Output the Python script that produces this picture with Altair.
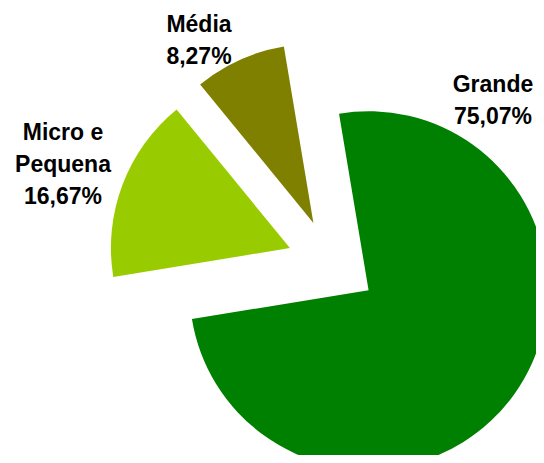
import math
import altair as alt
import pandas as pd

# ---- data ----
categories = ["Grande", "Micro e Pequena", "Média"]
shares = [75.07, 16.67, 8.27]
label_lines = ["Grande", "Micro e\nPequena", "Média"]
colors = ["#008000", "#99CC00", "#808000"]

# ---- layout / style ----
W, H = 528, 447
CX, CY = 324, 256          # pie centre (plot coords)
R = 179                    # pie radius
EXPLODE = 45               # radial explosion of each slice
START = math.radians(-9.5) # angle at which the first slice begins
FONT = "Liberation Sans"
FS = 23
LABEL_POS = {              # anchor of first text line (plot coords)
    "Grande": (485, 84),
    "Micro e Pequena": (55, 132),
    "Média": (191, 24),
}

df = pd.DataFrame({"cat": categories, "value": shares,
                   "order": list(range(len(categories)))})

color_scale = alt.Scale(domain=categories, range=colors)

slices = (
    alt.Chart(df)
    .transform_joinaggregate(total="sum(value)")
    .transform_window(cum="sum(value)", sort=[alt.SortField("order")],
                      frame=[None, 0])
    .transform_calculate(
        t1=f"{START} + 2*PI*datum.cum/datum.total",
        t0=f"{START} + 2*PI*(datum.cum - datum.value)/datum.total",
    )
    .transform_calculate(mid="(datum.t0 + datum.t1)/2")
    .transform_calculate(
        px=f"{CX} + {EXPLODE}*sin(datum.mid)",
        py=f"{CY} - {EXPLODE}*cos(datum.mid)",
    )
    .mark_arc(outerRadius=R, stroke=None)
    .encode(
        theta=alt.Theta("t0:Q", scale=None, stack=None),
        theta2="t1:Q",
        x=alt.X("px:Q", scale=None, axis=None),
        y=alt.Y("py:Q", scale=None, axis=None),
        color=alt.Color("cat:N", scale=color_scale, legend=None),
    )
)

lab = pd.DataFrame({
    "cat": categories,
    "text": [f"{l}\n{v:.2f}%".replace(".", ",") for l, v in zip(label_lines, shares)],
    "lx": [LABEL_POS[c][0] for c in categories],
    "ly": [LABEL_POS[c][1] for c in categories],
})

labels = (
    alt.Chart(lab)
    .mark_text(font=FONT, fontSize=FS, fontWeight="bold", color="#000000",
               align="center", baseline="alphabetic", lineBreak="\n",
               lineHeight=32)
    .encode(
        x=alt.X("lx:Q", scale=None, axis=None),
        y=alt.Y("ly:Q", scale=None, axis=None),
        text="text:N",
    )
)

chart = (
    alt.layer(slices, labels)
    .properties(width=W, height=H, padding=0, autosize="none",
                background="white")
    .configure_view(stroke=None)
)

chart.save("out.html", embed_options={"renderer": "svg", "actions": False})
